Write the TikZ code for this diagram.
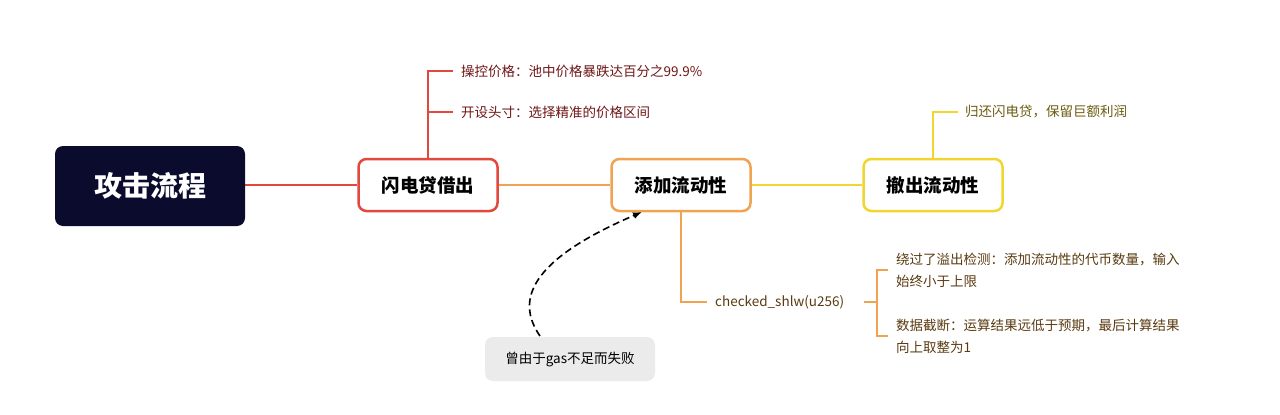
\documentclass[tikz,border=0pt]{standalone}
\usepackage{fontspec}
\setmainfont{Noto Sans CJK SC}
\usetikzlibrary{arrows.meta}
\definecolor{navy}{HTML}{0B0B2E}
\definecolor{cred}{HTML}{E2483D}
\definecolor{corg}{HTML}{F0A350}
\definecolor{cyel}{HTML}{F2D630}
\definecolor{tred}{HTML}{6E1616}
\definecolor{tbrn}{HTML}{5A3A10}
\definecolor{tyel}{HTML}{6B5A10}
\tikzset{x=1pt,y=-1pt,
 main/.style={rounded corners=8pt,line width=2.5pt,fill=white,minimum width=139pt,minimum height=52pt,font=\fontsize{18.5}{22}\selectfont\bfseries},
 leaf/.style={anchor=west,inner sep=0pt,font=\fontsize{13.5}{22}\selectfont,align=left}}
\begin{document}
\begin{tikzpicture}
\useasboundingbox (0,0) rectangle (1280,415);
\draw[cred,line width=2.5pt] (245,185) -- (357,185);
\draw[corg,line width=2.5pt] (498,185) -- (610,185);
\draw[cyel,line width=2.5pt] (751,185) -- (862,185);
\node[fill=navy,rounded corners=8pt,minimum width=190pt,minimum height=80pt,text=white,font=\fontsize{28}{32}\selectfont\bfseries] (root) at (150,186) {攻击流程};
\node[main,draw=cred] (a) at (428,185) {闪电贷借出};
\node[main,draw=corg] (b) at (681,185) {添加流动性};
\node[main,draw=cyel] (c) at (933,185) {撤出流动性};
% red branch
\coordinate (r1) at (428,71);
\node[leaf,text=tred] (ra) at (461,71) {操控价格：池中价格暴跌达百分之99.9\%};
\node[leaf,text=tred] (rb) at (461,112) {开设头寸：选择精准的价格区间};
\draw[cred,line width=1.5pt] (a.north) -- (r1) -- ++(25,0);
\draw[cred,line width=1.5pt] (428,112) -- ++(25,0);
% yellow branch
\node[leaf,text=tyel] (ya) at (965,112) {归还闪电贷，保留巨额利润};
\draw[cyel,line width=1.5pt] (c.north) -- (933,112) -- ++(25,0);
% orange branch
\node[leaf,text=tbrn] (ch) at (715,302) {checked\_shlw(u256)};
\draw[corg,line width=1.5pt] (b.south) -- (681,302) -- (707,302);
\draw[corg,line width=1.5pt] (864,302) -- (877,302);
\draw[corg,line width=1.5pt] (888,270) -- (877,270) -- (877,336) -- (888,336);
\node[leaf,text=tbrn] (oa) at (896,270) {绕过了溢出检测：添加流动性的代币数量，输入\\始终小于上限};
\node[leaf,text=tbrn] (ob) at (896,336) {数据截断：运算结果远低于预期，最后计算结果\\向上取整为1};
% callout
\node[fill=black!8,rounded corners=8pt,minimum width=170pt,minimum height=44pt,font=\fontsize{13.5}{16}\selectfont] (n) at (570,359) {曾由于gas不足而失败};
\draw[dash pattern=on 7pt off 4pt,line width=1.6pt,-{Latex[length=9pt,width=7pt]}] (540,336) .. controls (515,300) and (530,260) .. (642,212);
\end{tikzpicture}
\end{document}
